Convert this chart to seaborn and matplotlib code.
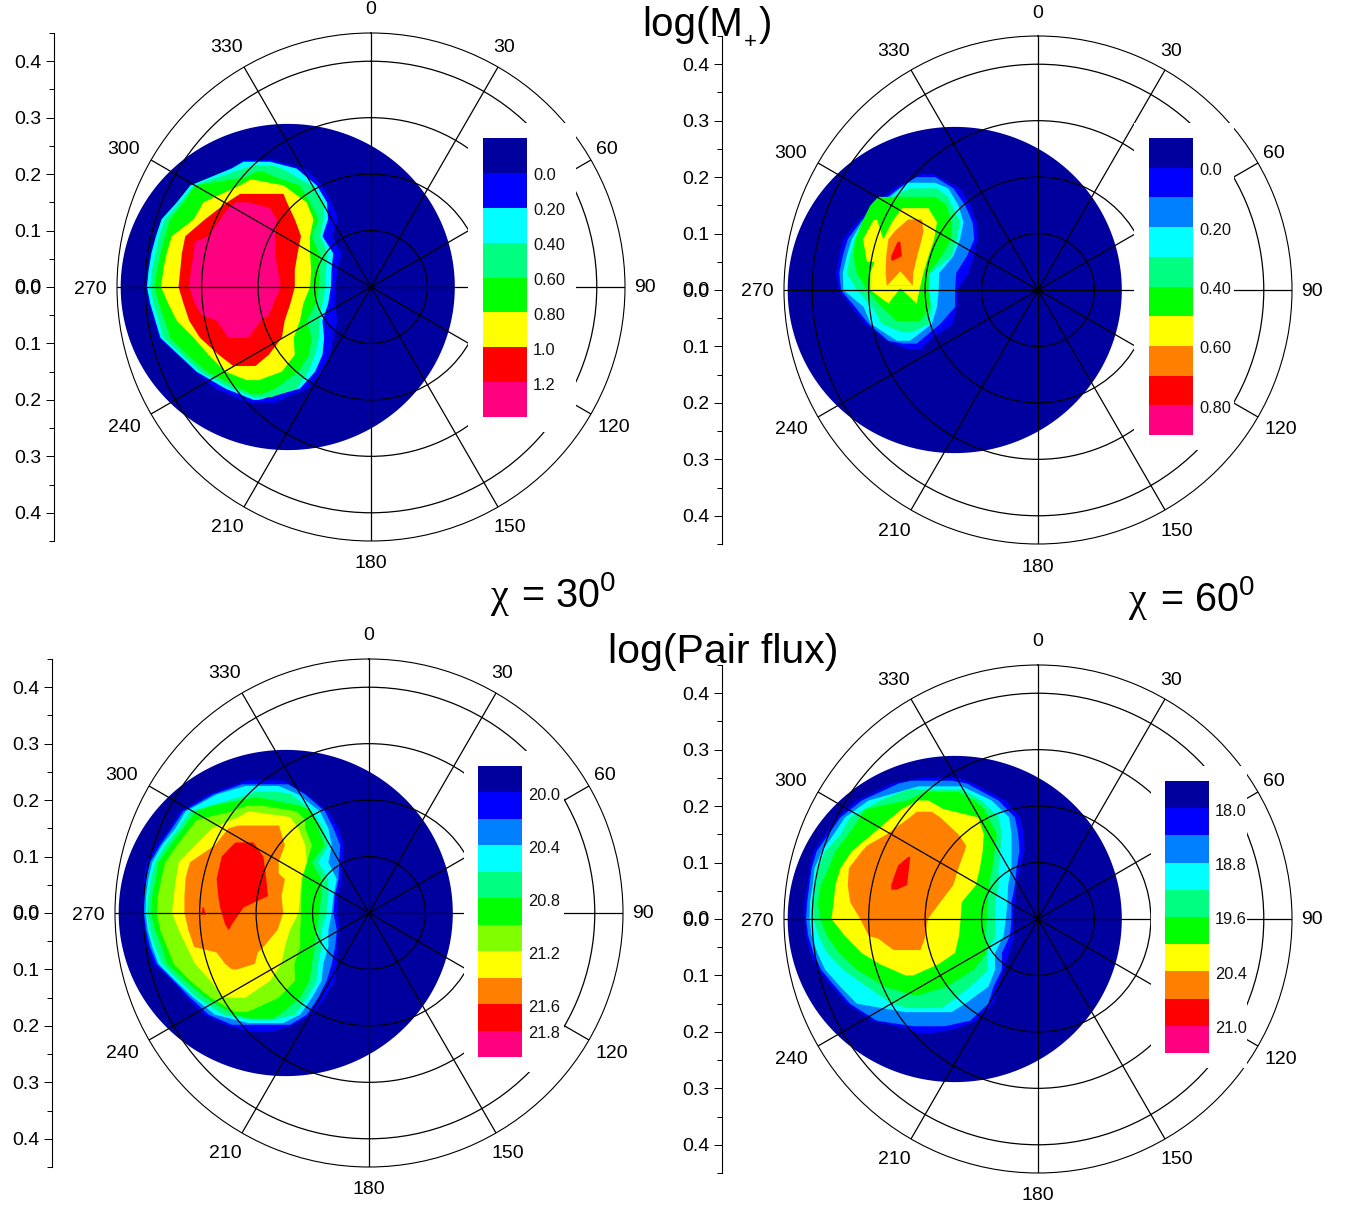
import numpy as np
import matplotlib
matplotlib.use('Agg')
import matplotlib.pyplot as plt
from matplotlib.colors import ListedColormap
from matplotlib.transforms import ScaledTranslation
import seaborn as sns

# contour outlines: rows of (y, x_left, x_right), in thousandths of the radial unit
# chi = 30, log(M+)
m30_blue = [(225,-226,-176),(210,-250,-117),(180,-314,-87),(150,-344,-70),(120,-371,-58),(90,-381,-70),(60,-391,-52),(30,-396,-59),(0,-398,-64),(-30,-394,-64),(-60,-384,-59),(-90,-376,-67),(-120,-344,-73),(-150,-312,-84),(-180,-276,-114),(-205,-217,-170)]
m30_cyan = [(222,-226,-179),(210,-247,-132),(180,-320,-96),(150,-344,-78),(120,-371,-76),(90,-381,-86),(60,-389,-67),(30,-394,-70),(0,-397,-71),(-30,-391,-76),(-60,-382,-86),(-90,-373,-83),(-120,-341,-86),(-150,-309,-99),(-180,-258,-126),(-200,-208,-199)]
m30_spring = [(215,-205,-173),(210,-226,-158),(180,-314,-105),(150,-338,-84),(120,-365,-84),(90,-375,-90),(60,-382,-77),(30,-388,-80),(0,-391,-81),(-30,-385,-86),(-60,-376,-92),(-90,-368,-92),(-120,-335,-99),(-150,-303,-111),(-180,-247,-132),(-195,-208,-176)]
m30_green = [(205,-202,-191),(195,-220,-170),(180,-312,-126),(150,-332,-108),(120,-356,-93),(90,-365,-105),(60,-373,-92),(30,-379,-92),(0,-384,-92),(-30,-376,-98),(-60,-365,-114),(-90,-356,-105),(-120,-326,-110),(-150,-291,-129),(-180,-232,-170),(-190,-211,-194)]
m30_yellow = [(190,-214,-208),(180,-232,-155),(150,-297,-114),(120,-314,-102),(90,-353,-108),(60,-362,-108),(30,-368,-106),(0,-372,-108),(-30,-359,-120),(-60,-344,-126),(-90,-314,-137),(-120,-288,-135),(-150,-258,-158),(-165,-220,-199)]
m30_red = [(165,-232,-155),(150,-255,-149),(120,-294,-135),(90,-329,-124),(60,-335,-130),(30,-338,-135),(0,-341,-135),(-30,-332,-143),(-60,-322,-153),(-90,-303,-158),(-120,-270,-181),(-140,-244,-205)]
m30_pink = [(150,-238,-217),(140,-253,-179),(120,-267,-167),(90,-288,-170),(80,-312,-170),(60,-314,-170),(30,-319,-165),(0,-322,-160),(-30,-312,-173),(-50,-300,-181),(-60,-273,-195),(-90,-253,-217)]

# chi = 60, log(M+)
m60_blue = [(205,-206,-185),(180,-256,-138),(150,-291,-120),(120,-321,-109),(90,-345,-107),(60,-352,-114),(30,-358,-123),(0,-353,-143),(-30,-330,-144),(-60,-306,-150),(-90,-268,-194),(-105,-230,-206)]
m60_azure = [(200,-215,-182),(180,-247,-150),(150,-286,-129),(120,-315,-116),(90,-337,-113),(60,-346,-126),(30,-352,-145),(0,-349,-147),(-30,-324,-147),(-60,-300,-173),(-90,-265,-209),(-95,-238,-215)]
m60_cyan = [(190,-230,-182),(180,-244,-159),(150,-280,-141),(120,-312,-132),(90,-330,-138),(60,-339,-150),(30,-346,-175),(0,-345,-176),(-30,-309,-179),(-60,-296,-188),(-90,-250,-227)]
m60_spring = [(180,-227,-179),(165,-259,-159),(150,-271,-153),(120,-309,-138),(90,-324,-144),(60,-333,-153),(30,-339,-191),(0,-321,-194),(-30,-294,-188),(-60,-277,-194),(-75,-241,-224)]
m60_green = [(165,-283,-182),(150,-297,-162),(120,-312,-153),(90,-324,-153),(60,-327,-171),(30,-321,-194),(0,-303,-194),(-30,-277,-191),(-55,-250,-209)]
m60_yellow = [(145,-241,-194),(120,-259,-179),(90,-274,-184),(60,-286,-194),(30,-297,-203),(0,-297,-210),(-24,-265,-215)]
m60_lobe = [(124,-291,-285),(90,-310,-274),(50,-303,-274)]
m60_notch_green = [(3,-244,-244),(-24,-265,-215)]
m60_orange = [(125,-230,-206),(105,-253,-203),(90,-265,-206),(60,-269,-214),(30,-270,-221),(8,-268,-222)]
m60_notch_yellow = [(33,-244,-244),(8,-267,-222)]
m60_red = [(85,-249,-244),(60,-260,-241),(52,-260,-257)]

# chi = 30, log(Pair flux)
p30_blue = [(235,-217,-152),(210,-284,-110),(180,-335,-72),(150,-352,-54),(120,-376,-44),(90,-394,-47),(60,-399,-48),(30,-401,-55),(0,-402,-55),(-30,-399,-53),(-60,-392,-57),(-90,-382,-57),(-120,-349,-60),(-150,-323,-78),(-180,-293,-101),(-200,-249,-137),(-210,-211,-172)]
p30_azure = [(228,-225,-143),(210,-276,-113),(180,-329,-78),(150,-349,-63),(120,-370,-51),(90,-388,-53),(60,-395,-54),(30,-398,-61),(0,-399,-63),(-30,-395,-57),(-60,-388,-60),(-90,-376,-66),(-120,-346,-75),(-150,-317,-90),(-180,-284,-110),(-198,-243,-140)]
p30_cyan = [(225,-219,-160),(210,-270,-125),(180,-325,-87),(150,-343,-72),(120,-367,-66),(90,-384,-72),(60,-391,-57),(30,-395,-63),(0,-396,-66),(-30,-392,-72),(-60,-384,-72),(-90,-373,-81),(-120,-343,-84),(-150,-311,-101),(-180,-273,-122),(-195,-214,-152)]
p30_spring = [(215,-202,-160),(210,-214,-137),(180,-317,-101),(150,-337,-81),(120,-361,-72),(90,-379,-90),(60,-386,-72),(30,-391,-72),(0,-394,-75),(-30,-388,-84),(-60,-379,-84),(-90,-367,-90),(-120,-337,-93),(-150,-305,-110),(-180,-258,-131),(-190,-208,-172)]
p30_green = [(205,-202,-196),(190,-278,-122),(180,-308,-101),(150,-329,-90),(120,-352,-79),(90,-373,-101),(60,-378,-85),(30,-384,-85),(0,-386,-88),(-30,-379,-93),(-60,-367,-96),(-90,-358,-101),(-120,-326,-106),(-150,-290,-122),(-180,-240,-158),(-187,-208,-172)]
p30_chart = [(190,-217,-190),(180,-243,-128),(165,-305,-113),(150,-317,-113),(120,-340,-101),(90,-361,-110),(60,-368,-118),(30,-374,-120),(0,-376,-120),(-30,-370,-122),(-60,-358,-122),(-90,-346,-132),(-120,-317,-131),(-150,-281,-160),(-175,-237,-214)]
p30_yellow = [(180,-214,-211),(170,-231,-140),(150,-278,-125),(120,-308,-113),(90,-337,-110),(60,-342,-120),(30,-346,-122),(0,-349,-125),(-30,-337,-140),(-60,-323,-149),(-90,-308,-155),(-120,-281,-175),(-150,-258,-219)]
p30_orange = [(155,-231,-159),(150,-249,-158),(120,-273,-149),(90,-317,-160),(70,-323,-160),(60,-325,-149),(30,-327,-155),(0,-327,-152),(-30,-320,-162),(-60,-310,-187),(-70,-270,-197),(-90,-255,-202),(-100,-243,-234)]
p30_red = [(125,-237,-205),(100,-261,-187),(60,-270,-182),(30,-267,-179),(10,-264,-222),(-20,-255,-243),(-30,-249,-248)]
p30_dot = [(10,-295,-293),(-3,-297,-289)]

# chi = 60, log(Pair flux)
p60_blue = [(250,-206,-141),(240,-259,-114),(210,-321,-58),(180,-356,-32),(150,-377,-25),(120,-398,-24),(90,-405,-32),(60,-409,-38),(30,-414,-41),(0,-414,-44),(-30,-411,-42),(-60,-404,-51),(-90,-389,-61),(-120,-365,-70),(-150,-339,-79),(-180,-294,-109),(-195,-230,-147),(-202,-212,-188)]
p60_azure = [(245,-224,-153),(240,-247,-126),(210,-312,-70),(180,-350,-41),(150,-371,-35),(120,-392,-33),(90,-401,-38),(60,-405,-41),(30,-409,-47),(0,-411,-47),(-30,-407,-50),(-60,-398,-64),(-90,-384,-64),(-120,-359,-79),(-150,-333,-88),(-180,-286,-120),(-190,-221,-165)]
p60_cyan = [(235,-212,-135),(210,-300,-82),(180,-342,-51),(150,-362,-47),(120,-383,-47),(90,-396,-47),(60,-399,-53),(30,-404,-54),(0,-405,-57),(-30,-401,-61),(-60,-391,-76),(-90,-377,-76),(-120,-350,-88),(-150,-321,-129),(-165,-235,-153)]
p60_spring = [(230,-230,-135),(210,-280,-100),(180,-333,-70),(150,-350,-64),(120,-377,-67),(90,-389,-70),(60,-394,-70),(30,-398,-76),(0,-398,-76),(-30,-389,-75),(-60,-374,-91),(-90,-345,-88),(-120,-303,-120),(-150,-259,-159),(-158,-230,-171)]
p60_green = [(225,-200,-141),(210,-232,-112),(195,-306,-95),(180,-315,-88),(150,-336,-73),(120,-359,-77),(90,-371,-81),(60,-385,-87),(30,-390,-89),(0,-386,-91),(-30,-374,-93),(-60,-353,-91),(-90,-321,-114),(-120,-271,-162),(-135,-221,-212)]
p60_yellow = [(210,-212,-194),(195,-241,-168),(180,-259,-106),(150,-294,-96),(120,-330,-98),(90,-350,-103),(60,-359,-110),(30,-362,-135),(0,-366,-137),(-30,-342,-140),(-60,-313,-147),(-80,-280,-176),(-100,-235,-221)]
p60_orange = [(190,-215,-188),(180,-227,-173),(150,-268,-141),(130,-303,-127),(120,-312,-130),(90,-335,-141),(60,-337,-150),(30,-333,-173),(0,-315,-195),(-30,-300,-200),(-35,-283,-201),(-55,-256,-208)]
p60_red = [(110,-230,-226),(95,-248,-228),(60,-260,-232),(52,-260,-250)]

# colour scale legends
m30_labels = ['0.0', '0.20', '0.40', '0.60', '0.80', '1.0', '1.2']
m60_labels = ['0.0', '0.20', '0.40', '0.60', '0.80']
p30_labels = ['20.0', '20.4', '20.8', '21.2', '21.6', '21.8']
p60_labels = ['18.0', '18.8', '19.6', '20.4', '21.0']

NAVY, BLUE, AZURE, CYAN, SPRING = '#00009F', '#0000FF', '#0080FF', '#00FFFF', '#00FF80'
GREEN, CHART, YELLOW, ORANGE, RED, PINK = '#00FF00', '#80FF00', '#FFFF00', '#FF8000', '#FF0000', '#FF0080'

W, H = 1348, 1209
R = 254
RMAX = 0.45
# where each angle label sits, pixels right and up from the panel centre
label_dx = [0, 133, 236, 274, 243, 139, 0, -144, -247, -281, -247, -144]
label_dy = [279, 241, 139, 1, -138, -239, -275, -239, -138, 0, 139, 241]

panels = [
    dict(c=(371, 287), axis_x=54, bar=(483, 527, 138, 417), box=(468, 576, 123, 432),
         colors=[NAVY, BLUE, CYAN, SPRING, GREEN, YELLOW, RED, PINK],
         labels=m30_labels, bounds=[1, 2, 3, 4, 5, 6, 7],
         layers=[(BLUE, m30_blue), (CYAN, m30_cyan), (SPRING, m30_spring), (GREEN, m30_green),
                 (YELLOW, m30_yellow), (RED, m30_red), (PINK, m30_pink)]),
    dict(c=(1038, 290), axis_x=722, bar=(1149, 1193, 138, 435), box=(1134, 1234, 123, 450),
         colors=[NAVY, BLUE, AZURE, CYAN, SPRING, GREEN, YELLOW, ORANGE, RED, PINK],
         labels=m60_labels, bounds=[1, 3, 5, 7, 9],
         layers=[(BLUE, m60_blue), (AZURE, m60_azure), (CYAN, m60_cyan), (SPRING, m60_spring),
                 (GREEN, m60_green), (YELLOW, m60_yellow), (YELLOW, m60_lobe), (GREEN, m60_notch_green),
                 (ORANGE, m60_orange), (YELLOW, m60_notch_yellow), (RED, m60_red)]),
    dict(c=(369, 913), axis_x=52, bar=(478, 522, 766, 1057), box=(464, 564, 751, 1072),
         colors=[NAVY, BLUE, AZURE, CYAN, SPRING, GREEN, CHART, YELLOW, ORANGE, RED, PINK],
         labels=p30_labels, bounds=[1, 3, 5, 7, 9, 10],
         layers=[(BLUE, p30_blue), (AZURE, p30_azure), (CYAN, p30_cyan), (SPRING, p30_spring),
                 (GREEN, p30_green), (CHART, p30_chart), (YELLOW, p30_yellow), (ORANGE, p30_orange),
                 (RED, p30_red), (RED, p30_dot)]),
    dict(c=(1038, 919), axis_x=722, bar=(1165, 1209, 781, 1053), box=(1151, 1247, 766, 1068),
         colors=[NAVY, BLUE, AZURE, CYAN, SPRING, GREEN, YELLOW, ORANGE, RED, PINK],
         labels=p60_labels, bounds=[1, 3, 5, 7, 9],
         layers=[(BLUE, p60_blue), (AZURE, p60_azure), (CYAN, p60_cyan), (SPRING, p60_spring),
                 (GREEN, p60_green), (YELLOW, p60_yellow), (ORANGE, p60_orange), (RED, p60_red)]),
]

sns.set_theme(style='white')
plt.rcParams['font.family'] = ['Liberation Sans', 'DejaVu Sans']
plt.rcParams['mathtext.fontset'] = 'custom'
plt.rcParams['mathtext.rm'] = 'Liberation Sans'
plt.rcParams['mathtext.default'] = 'regular'


def rect(x0, x1, y0, y1):
    return [x0 / W, 1 - y1 / H, (x1 - x0) / W, (y1 - y0) / H]


def outline(rows):
    rows = np.array(rows) / 1000
    x = np.r_[rows[:, 1], rows[::-1, 2]]
    y = np.r_[rows[:, 0], rows[::-1, 0]]
    return np.arctan2(x, y), np.hypot(x, y)


def put(x, y, s, size=29, **kw):
    fig.text(x / W, 1 - y / H, s, fontsize=size, color='black', va='baseline', **kw)


fig = plt.figure(figsize=(W / 100, H / 100), dpi=100)

for p in panels:
    cx, cy = p['c']
    ax = fig.add_axes(rect(cx - R, cx + R, cy - R, cy + R), projection='polar')
    ax.set_theta_zero_location('N')
    ax.set_theta_direction(-1)

    # the navy disc, then each contour level on top
    t = np.linspace(0, 2 * np.pi, 200)
    dx, dy = -0.1475 + 0.296 * np.cos(t), 0.289 * np.sin(t)
    ax.fill(np.arctan2(dx, dy), np.hypot(dx, dy), color=NAVY, lw=0)
    for col, rows in p['layers']:
        th, rr = outline(rows)
        ax.fill(th, rr, color=col, lw=0)

    ax.set_rlim(0, RMAX)
    ax.set_rticks([0.1, 0.2, 0.3, 0.4])
    ax.set_yticklabels([])
    angles = np.arange(0, 360, 30)
    ax.set_xticks(np.radians(angles))
    ax.set_xticklabels([])
    for a, ox, oy in zip(angles, label_dx, label_dy):
        ax.annotate(str(a), (0, 0), xytext=(ox * 0.72, (oy - 2) * 0.72), textcoords='offset points',
                    fontsize=14, color='black', ha='center', va='center', annotation_clip=False)
    ax.set_xticks(np.radians(np.arange(15, 360, 30)), minor=True)
    ax.tick_params(axis='x', which='major', length=0)
    ax.tick_params(axis='x', which='minor', length=3, width=0.7, direction='inout', color='black')
    ax.grid(True, which='major', color='black', lw=0.9)
    ax.set_axisbelow(False)
    ax.spines['polar'].set_color('black')
    ax.spines['polar'].set_linewidth(0.8)

    # radius scale on the left
    sc = fig.add_axes(rect(p['axis_x'], p['axis_x'] + 1, cy - R, cy + R))
    sc.patch.set_alpha(0)
    for side in ['top', 'right', 'bottom']:
        sc.spines[side].set_visible(False)
    sc.spines['left'].set_color('black')
    sc.spines['left'].set_linewidth(0.8)
    sc.set_xticks([])
    sc.set_ylim(-RMAX, RMAX)
    sc.set_yticks(np.arange(-0.4, 0.41, 0.1))
    sc.set_yticklabels(['0.4', '0.3', '0.2', '0.1', '0.0', '0.1', '0.2', '0.3', '0.4'], fontsize=14, color='black')
    sc.set_yticks(np.arange(-0.45, 0.46, 0.1), minor=True)
    sc.tick_params(axis='y', which='major', length=6, width=0.7, pad=3, left=True, color='black')
    sc.tick_params(axis='y', which='minor', length=3.5, width=0.7, left=True, color='black')
    # the 0.0 is printed twice in the original, so it reads heavier
    sc.annotate('0.0', (0, 0), xycoords=('axes fraction', 'data'), xytext=(-9.3, 0),
                textcoords='offset points', ha='right', va='center', fontsize=14, color='black')

    # white box behind the colour scale, it hides the rings below it
    x0, x1, y0, y1 = p['box']
    box = fig.add_axes(rect(x0, x1, y0, y1), facecolor='white')
    box.set_xticks([])
    box.set_yticks([])
    for s in box.spines.values():
        s.set_visible(False)

    bx0, bx1, by0, by1 = p['bar']
    bar = fig.add_axes(rect(bx0, bx1, by0, by1))
    n = len(p['colors'])
    sns.heatmap(np.arange(n).reshape(-1, 1), cmap=ListedColormap(p['colors']), cbar=False,
                ax=bar, xticklabels=False, vmin=-0.5, vmax=n - 0.5)
    bar.yaxis.tick_right()
    bar.set_yticks(p['bounds'])
    bar.set_yticklabels(p['labels'], rotation=0, fontsize=11.8, color='#111111')
    bar.tick_params(axis='y', length=0, pad=4.3)
    for lab in bar.get_yticklabels():
        lab.set_transform(lab.get_transform() + ScaledTranslation(0, -1.5 / 100, fig.dpi_scale_trans))

put(642, 36, 'log(M')
put(744, 48, '+', size=16)
put(759, 36, ')')
put(608, 663, 'log(Pair flux)', size=29.5)
put(490, 607, 'χ', family='Liberation Serif')
put(521, 607, '= 30$^{0}$', size=28.5)
put(1128, 611, 'χ', family='Liberation Serif')
put(1160, 611, '= 60$^{0}$', size=28.5)

fig.savefig('out.png', dpi=100)
plt.close(fig)
